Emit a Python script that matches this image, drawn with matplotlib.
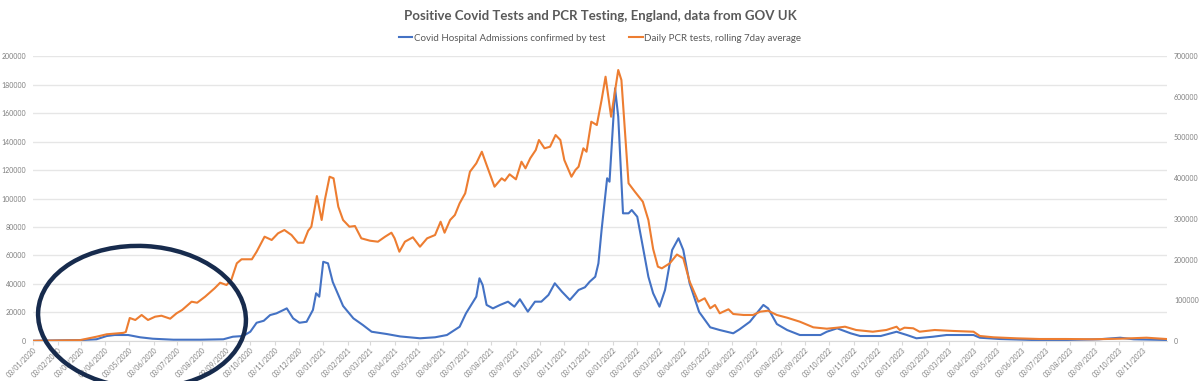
import matplotlib
matplotlib.use("Agg")
import matplotlib.pyplot as plt
import matplotlib.dates as mdates
from matplotlib.patches import Ellipse
from matplotlib.ticker import MultipleLocator, FuncFormatter
import pandas as pd

plt.rcParams['font.family'] = ['Lato', 'DejaVu Sans']

# Covid hospital admissions (left axis)
adm_dates = ['2020-01-03', '2020-03-06', '2020-03-23', '2020-04-05', '2020-04-15', '2020-05-02',
             '2020-05-17', '2020-06-02', '2020-06-28', '2020-08-01', '2020-08-30', '2020-09-11',
             '2020-09-24', '2020-10-03', '2020-10-11', '2020-10-20', '2020-10-28', '2020-11-05',
             '2020-11-14', '2020-11-18', '2020-11-26', '2020-12-04', '2020-12-13', '2020-12-21',
             '2020-12-25', '2020-12-29', '2021-01-03', '2021-01-09', '2021-01-15', '2021-01-28',
             '2021-02-10', '2021-02-22', '2021-03-05', '2021-03-24', '2021-04-10', '2021-05-05',
             '2021-05-24', '2021-06-08', '2021-06-24', '2021-07-02', '2021-07-15', '2021-07-19',
             '2021-07-23', '2021-07-28', '2021-08-05', '2021-08-14', '2021-08-24', '2021-09-01',
             '2021-09-08', '2021-09-18', '2021-09-27', '2021-10-05', '2021-10-14', '2021-10-22',
             '2021-10-31', '2021-11-10', '2021-11-21', '2021-11-29', '2021-12-05', '2021-12-12',
             '2021-12-16', '2021-12-20', '2021-12-27', '2021-12-30', '2022-01-04', '2022-01-06',
             '2022-01-10', '2022-01-16', '2022-01-23', '2022-01-27', '2022-02-03', '2022-02-10',
             '2022-02-17', '2022-02-23', '2022-03-03', '2022-03-10', '2022-03-19', '2022-03-27',
             '2022-04-02', '2022-04-10', '2022-04-22', '2022-05-06', '2022-05-18', '2022-06-04',
             '2022-06-12', '2022-06-25', '2022-07-12', '2022-07-18', '2022-07-29', '2022-08-11',
             '2022-08-27', '2022-09-22', '2022-09-30', '2022-10-13', '2022-10-30', '2022-11-11',
             '2022-12-07', '2022-12-27', '2023-01-02', '2023-01-09', '2023-01-21', '2023-02-11',
             '2023-02-28', '2023-04-03', '2023-04-11', '2023-05-06', '2023-06-17', '2023-07-28',
             '2023-09-08', '2023-10-05', '2023-10-22', '2023-12-02']
adm_vals = [200, 700, 1200, 3500, 4200, 4200,
            2600, 1600, 900, 900, 1200, 3000,
            3500, 6500, 12800, 14200, 18200, 19400,
            21800, 22900, 15900, 12800, 13500, 21800,
            33500, 31100, 55600, 54500, 41400, 24600,
            15900, 11200, 6500, 4900, 3200, 1900,
            2600, 4200, 10000, 19400, 31100, 44000,
            39300, 25300, 22900, 25300, 27600, 24100,
            29300, 20600, 27600, 27600, 32300, 40500,
            34600, 28800, 35800, 37700, 41600, 45100,
            54500, 77900, 114200, 111800, 157400, 177300,
            157400, 89600, 89600, 91900, 87200, 66200,
            45100, 33500, 24100, 35800, 63900, 72100,
            63900, 40500, 20400, 9600, 7700, 5400,
            8200, 13500, 25300, 22900, 11900, 7700,
            4200, 4200, 6500, 8900, 5400, 3500,
            3500, 6500, 5400, 4200, 1900, 3000,
            4200, 4200, 2300, 1400, 700, 700,
            1200, 2300, 1200, 700]

# Daily PCR tests, rolling 7 day average (right axis)
pcr_dates = ['2020-01-03', '2020-03-02', '2020-03-23', '2020-04-05', '2020-04-26', '2020-04-29',
             '2020-05-04', '2020-05-11', '2020-05-19', '2020-05-27', '2020-06-05', '2020-06-13',
             '2020-06-24', '2020-07-02', '2020-07-09', '2020-07-21', '2020-07-28', '2020-08-07',
             '2020-08-19', '2020-08-26', '2020-09-03', '2020-09-09', '2020-09-16', '2020-09-22',
             '2020-10-05', '2020-10-11', '2020-10-21', '2020-10-30', '2020-11-07', '2020-11-15',
             '2020-11-24', '2020-12-02', '2020-12-09', '2020-12-15', '2020-12-19', '2020-12-26',
             '2021-01-01', '2021-01-05', '2021-01-11', '2021-01-16', '2021-01-22', '2021-01-28',
             '2021-02-05', '2021-02-12', '2021-02-20', '2021-03-03', '2021-03-13', '2021-03-22',
             '2021-03-30', '2021-04-03', '2021-04-09', '2021-04-16', '2021-04-26', '2021-05-05',
             '2021-05-14', '2021-05-24', '2021-05-31', '2021-06-05', '2021-06-12', '2021-06-18',
             '2021-06-24', '2021-07-01', '2021-07-07', '2021-07-15', '2021-07-22', '2021-07-28',
             '2021-08-07', '2021-08-16', '2021-08-20', '2021-08-26', '2021-09-03', '2021-09-10',
             '2021-09-15', '2021-09-21', '2021-09-28', '2021-10-02', '2021-10-09', '2021-10-16',
             '2021-10-23', '2021-10-29', '2021-11-03', '2021-11-12', '2021-11-17', '2021-11-21',
             '2021-11-27', '2021-12-01', '2021-12-07', '2021-12-14', '2021-12-20', '2021-12-25',
             '2022-01-01', '2022-01-10', '2022-01-14', '2022-01-23', '2022-01-31', '2022-02-10',
             '2022-02-17', '2022-02-23', '2022-03-01', '2022-03-06', '2022-03-16', '2022-03-25',
             '2022-04-02', '2022-04-10', '2022-04-21', '2022-04-29', '2022-05-06', '2022-05-12',
             '2022-05-18', '2022-05-29', '2022-06-04', '2022-06-17', '2022-06-29', '2022-07-08',
             '2022-07-18', '2022-07-29', '2022-08-11', '2022-08-27', '2022-09-13', '2022-09-30',
             '2022-10-13', '2022-10-23', '2022-11-06', '2022-11-27', '2022-12-14', '2022-12-27',
             '2022-12-31', '2023-01-06', '2023-01-17', '2023-01-25', '2023-02-13', '2023-03-09',
             '2023-04-03', '2023-04-11', '2023-04-28', '2023-05-27', '2023-06-25', '2023-07-28',
             '2023-08-31', '2023-10-05', '2023-11-07', '2023-12-02']
pcr_vals = [500, 2000, 10500, 16500, 20000, 22100,
            56500, 51600, 63900, 51600, 59700, 62100,
            54800, 68000, 76100, 96500, 94000, 108800,
            129400, 143200, 137500, 149800, 190800, 200700,
            200700, 219300, 256200, 248100, 264500, 272600,
            260300, 241400, 241400, 270900, 280700, 356100,
            297200, 346300, 403500, 399600, 329800, 297200,
            280700, 282400, 252200, 246300, 243900, 256200,
            266000, 252200, 219300, 243900, 254700, 231600,
            252200, 260300, 293000, 266000, 297200, 309500,
            338200, 362700, 415800, 436400, 464900, 432300,
            379000, 399600, 393700, 409400, 397100, 440400,
            424100, 448700, 469100, 493700, 473300, 477200,
            505900, 493700, 444500, 403500, 420000, 428100,
            473300, 464900, 538600, 530500, 591900, 649100,
            550900, 665600, 641000, 387300, 366700, 342100,
            297200, 226000, 182500, 178500, 190800, 212400,
            203100, 146100, 96500, 104900, 80300, 88400,
            68000, 77900, 66300, 63900, 63900, 72000,
            74400, 63900, 57200, 47400, 33600, 30200,
            32700, 35100, 27000, 22800, 27000, 35100,
            27000, 32700, 31200, 22800, 27000, 24600,
            22800, 12300, 9100, 6600, 4900, 4900,
            4300, 5600, 8100, 4900]

adm_x = pd.to_datetime(adm_dates)
pcr_x = pd.to_datetime(pcr_dates)
month_ticks = pd.date_range('2020-01-01', '2023-11-01', freq='MS') + pd.Timedelta(days=2)

grey = '#7f7f7f'
fig = plt.figure(figsize=(12, 3.81), dpi=100)
ax = fig.add_axes([0.0275, 0.105, 0.945, 0.748])
ax2 = ax.twinx()

l1, = ax.plot(adm_x, adm_vals, color='#4472C4', lw=1.5,
              label='Covid Hospital Admissions confirmed by test')
l2, = ax2.plot(pcr_x, pcr_vals, color='#ED7D31', lw=1.5,
               label='Daily PCR tests, rolling 7day average')

ax.set_ylim(0, 200000)
ax2.set_ylim(0, 700000)
ax.yaxis.set_major_locator(MultipleLocator(20000))
ax2.yaxis.set_major_locator(MultipleLocator(100000))
ax.set_xlim(pd.Timestamp('2020-01-03'), pd.Timestamp('2023-12-03'))

ax.grid(axis='y', color='#e6e6e6', lw=1)
ax.set_axisbelow(True)
for a in (ax, ax2):
    for s in a.spines.values():
        s.set_visible(False)
ax.spines['bottom'].set_visible(True)
ax.spines['bottom'].set_color('#d9d9d9')

ax.set_xticks(month_ticks)
ax.xaxis.set_major_formatter(mdates.DateFormatter('%d/%m/%Y'))
ax.tick_params(axis='x', colors='#d9d9d9', length=3, labelcolor=grey, labelsize=5, pad=1)
plt.setp(ax.get_xticklabels(), rotation=45, ha='right', rotation_mode='anchor')
ax.tick_params(axis='y', length=0, labelcolor=grey, labelsize=5, pad=5)
ax2.tick_params(axis='y', length=0, labelcolor=grey, labelsize=5, pad=5)
fmt = FuncFormatter(lambda v, p: '%d' % v)
ax.yaxis.set_major_formatter(fmt)
ax2.yaxis.set_major_formatter(fmt)

fig.text(0.5, 0.958, 'Positive Covid Tests and PCR Testing, England, data from GOV UK',
         ha='center', va='center', fontsize=9.5, fontweight='bold', color='#595959')
fig.legend(handles=[l1, l2], loc='center', bbox_to_anchor=(0.5, 0.9), ncol=2,
           frameon=False, fontsize=7, handlelength=1.4, handletextpad=0.15,
           columnspacing=2.5, labelcolor='#595959')

# hand-drawn ring around early 2020
ring = Ellipse((1.42, 0.64), 2.08, 1.42, angle=-3, transform=fig.dpi_scale_trans,
               fill=False, ec='#172b4d', lw=3.2, clip_on=False)
fig.add_artist(ring)

fig.savefig('out.png', dpi=100)
